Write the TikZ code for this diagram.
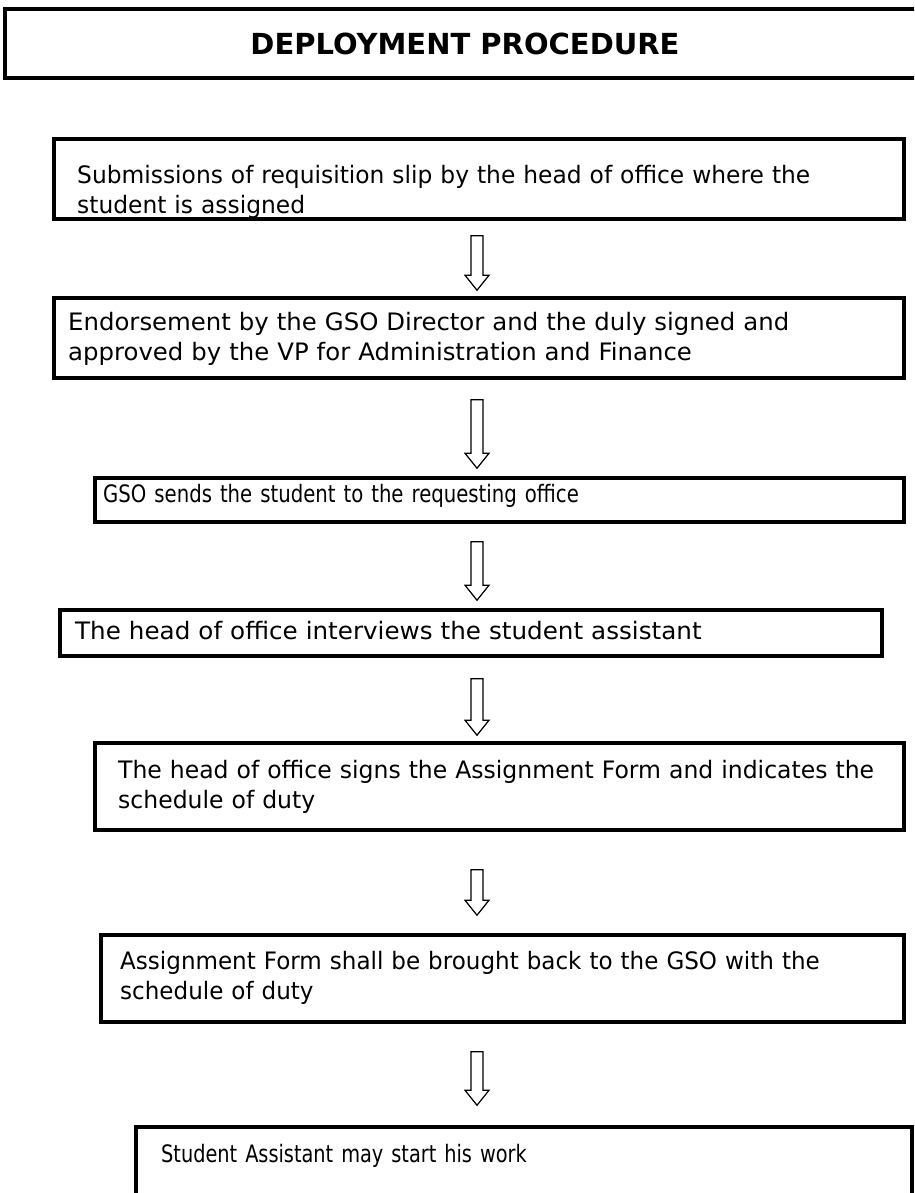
\documentclass[tikz,border=0pt]{standalone}
\usepackage{fontspec}
\setmainfont{DejaVu Sans}
\usetikzlibrary{calc}

\begin{document}
\begin{tikzpicture}[x=1pt,y=-1pt]
  \tikzset{T/.style={draw=black, line width=4pt, font=\bfseries\fontsize{29}{34}\selectfont}}
  \tikzset{BX/.style={draw=black, line width=3.5pt}}
  \tikzset{TX/.style={anchor=north west, inner sep=0pt, align=left, text width=840pt,
      font=\fontsize{24}{30}\selectfont\addfontfeature{FakeStretch=#1}}, TX/.default=1}
  \tikzset{HA/.style 2 args={line width=1.2pt, to path={let \p1=(\tikztostart), \p2=(\tikztotarget) in
      (\x1-6pt,\y1-#1pt) -- (\x1-6pt,\y2+#2pt+15pt) -- (\x1-12pt,\y2+#2pt+15pt) -- (\x1,\y2+#2pt)
      -- (\x1+12pt,\y2+#2pt+15pt) -- (\x1+6pt,\y2+#2pt+15pt) -- (\x1+6pt,\y1-#1pt) -- cycle}}}

  \useasboundingbox (0,0) rectangle (914,1193);
  \clip (0,0) rectangle (914,1193);

  \node [T, minimum width=920, minimum height=69] (title) at (465,43.5) {DEPLOYMENT PROCEDURE};

  \node [BX, minimum width=850, minimum height=80]  (s1) at (479,179)    {};
  \node [BX, minimum width=850, minimum height=80]  (s2) at (479,338)    {};
  \node [BX, minimum width=809, minimum height=44]  (s3) at (499.5,500)  {};
  \node [BX, minimum width=822, minimum height=46]  (s4) at (471,633)    {};
  \node [BX, minimum width=809, minimum height=87]  (s5) at (499.5,786.5) {};
  \node [BX, minimum width=803, minimum height=87]  (s6) at (502.5,978.5) {};
  \node [BX, minimum width=776, minimum height=103] (s7) at (524,1178.5) {};

  \node [TX=0.973] (t1) at (77,162)  {\strut Submissions of requisition slip by the head of office where the\\student is assigned};
  \node [TX=1.016] (t2) at (68,309)  {\strut Endorsement by the GSO Director and the duly signed and\\approved by the VP for Administration and Finance};
  \node [TX=0.82]  (t3) at (103,481) {\strut GSO sends the student to the requesting office};
  \node [TX=1.026] (t4) at (75,618)  {\strut The head of office interviews the student assistant};
  \node [TX=0.98]  (t5) at (118,757) {\strut The head of office signs the Assignment Form and indicates the\\schedule of duty};
  \node [TX=0.96]  (t6) at (120,948) {\strut Assignment Form shall be brought back to the GSO with the\\schedule of duty};
  \node [TX=0.805] (t7) at (161,1141) {\strut Student Assistant may start his work};

  \coordinate (ax) at (477,0);
  \foreach \from/\to/\ga/\gb in {s1/s2/15/6, s2/s3/20/8, s3/s4/18/8, s4/s5/21/6, s5/s6/38/18, s6/s7/28/20}
    \draw [HA={\ga}{\gb}] (\from.south -| ax) to (\to.north -| ax);
\end{tikzpicture}
\end{document}
